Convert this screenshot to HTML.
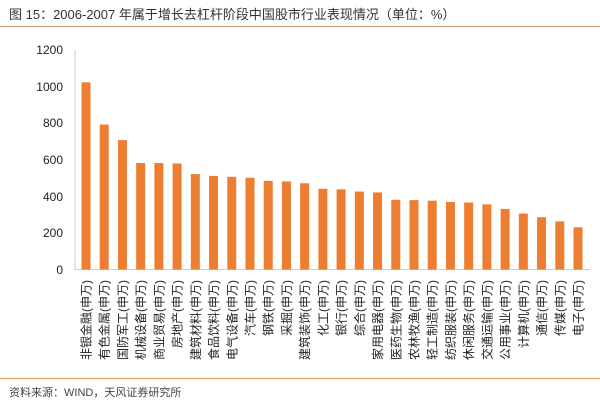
<!DOCTYPE html>
<html><head><meta charset="utf-8"><style>
body{margin:0;background:#fff;width:600px;height:405px;overflow:hidden;font-family:"Liberation Sans","Noto Sans CJK SC",sans-serif;}
</style></head><body>
<svg width="600" height="405" xmlns="http://www.w3.org/2000/svg" font-family="Liberation Sans, Noto Sans CJK SC, sans-serif">
<text x="9" y="19" font-size="13" fill="#333">图 15：2006-2007 年属于增长去杠杆阶段中国股市行业表现情况（单位：%）</text>
<line x1="0" y1="26.5" x2="600" y2="26.5" stroke="#c9a57a" stroke-width="1.2"/>
<g font-size="12" fill="#222" text-anchor="end">
<text x="63" y="54">1200</text><text x="63" y="91">1000</text><text x="63" y="127">800</text>
<text x="63" y="164">600</text><text x="63" y="201">400</text><text x="63" y="237">200</text><text x="63" y="274">0</text>
</g>
<line x1="75" y1="50" x2="75" y2="270" stroke="#ccc"/>
<line x1="75" y1="269.5" x2="590" y2="269.5" stroke="#ccc"/>
<g id="bars" fill="#ed7d31"></g>
<g id="labs" font-size="12" fill="#222"></g>
<line x1="0" y1="378.5" x2="600" y2="378.5" stroke="#e8a36a" stroke-width="1.2"/>
<text x="9" y="396" font-size="11" fill="#444">资料来源：WIND，天风证券研究所</text>
</svg>
<script>
var v=[1020,790,705,580,580,578,520,510,505,500,483,480,470,440,437,425,420,380,378,375,368,365,355,330,305,285,262,230];
var n=["非银金融","有色金属","国防军工","机械设备","商业贸易","房地产","建筑材料","食品饮料","电气设备","汽车","钢铁","采掘","建筑装饰","化工","银行","综合","家用电器","医药生物","农林牧渔","轻工制造","纺织服装","休闲服务","交通运输","公用事业","计算机","通信","传媒","电子"];
var b=document.getElementById('bars'),l=document.getElementById('labs'),ns="http://www.w3.org/2000/svg";
var step=(578-86)/(n.length-1);
for(var i=0;i<n.length;i++){var cx=86+i*step;var h=v[i]*0.1835;
var r=document.createElementNS(ns,'rect');r.setAttribute('x',cx-4.5);r.setAttribute('y',269.5-h);r.setAttribute('width',9);r.setAttribute('height',h);b.appendChild(r);
var t=document.createElementNS(ns,'text');t.setAttribute('text-anchor','end');t.setAttribute('transform','translate('+(cx+4.5)+',280) rotate(-90)');t.textContent=n[i]+'(申万)';l.appendChild(t);}
</script>
</body></html>
